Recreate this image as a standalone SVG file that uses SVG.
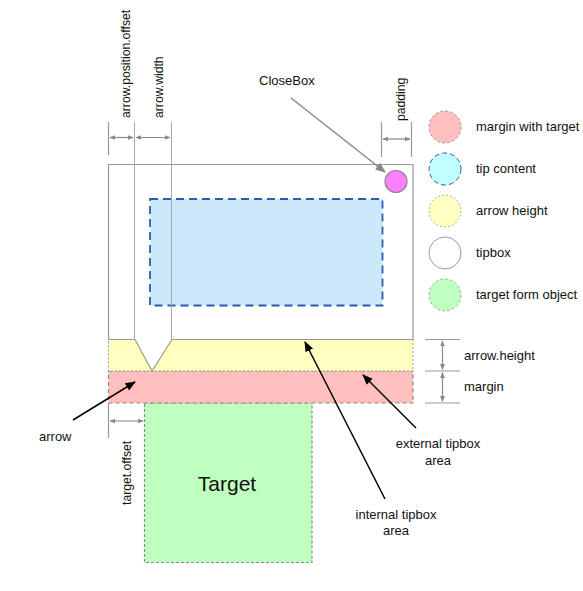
<svg xmlns="http://www.w3.org/2000/svg" width="583" height="591" viewBox="0 0 583 591">
<defs>
<style>
text{font-family:"Liberation Sans",Arial,sans-serif;font-size:13px;fill:#111}
.rot{font-size:12.2px}
.dim{stroke:#888;stroke-width:1.2;fill:none}
.ext{stroke:#999;stroke-width:1.2;fill:none}
.thin{stroke:#aaa;stroke-width:1;fill:none}
.blk{stroke:#000;stroke-width:1.5;fill:none}
</style>
<marker id="ga" viewBox="0 0 10 10" refX="9" refY="5" markerWidth="5" markerHeight="5" orient="auto-start-reverse"><path d="M0,1 L10,5 L0,9 z" fill="#888"/></marker>
<marker id="gb" viewBox="0 0 10 10" refX="9" refY="5" markerWidth="7" markerHeight="7" orient="auto"><path d="M0,1 L10,5 L0,9 z" fill="#888"/></marker>
<marker id="ba" viewBox="0 0 10 10" refX="9" refY="5" markerWidth="7" markerHeight="7" orient="auto"><path d="M0,1 L10,5 L0,9 z" fill="#000"/></marker>
</defs>
<rect width="583" height="591" fill="#fff"/>

<g id="target">
<rect x="144.5" y="403" width="167.5" height="159.5" fill="#bfffbf" stroke="#888" stroke-width="1.2" stroke-dasharray="3,2"/>
<text x="227" y="491" text-anchor="middle" style="font-size:21px">Target</text>
</g>

<g id="margin-area">
<rect x="108.5" y="371" width="304.5" height="32" fill="#ffbfbf" stroke="#888" stroke-width="1.2" stroke-dasharray="4,3"/>
</g>

<g id="arrow-area">
<rect x="108.5" y="339.5" width="304.5" height="31.5" fill="#ffffbf" stroke="#999" stroke-width="1" stroke-dasharray="2,2"/>
</g>

<g id="tipbox">
<path d="M108.5,164.5 H413 V339.5 H172 L152,371 L135,339.5 H108.5 Z" fill="#fff" stroke="#999" stroke-width="1.2"/>
</g>

<g id="tip-content">
<rect x="150" y="199" width="232.5" height="106.5" fill="#cce9fb" stroke="#2a5db0" stroke-width="1.8" stroke-dasharray="8,5"/>
</g>

<g id="closebox">
<circle cx="396" cy="181.5" r="11" fill="#ff80ff" stroke="#888" stroke-width="1.2"/>
</g>

<g id="guides">
<line class="thin" x1="134.5" y1="122" x2="134.5" y2="339.5"/>
<line class="thin" x1="171.5" y1="122" x2="171.5" y2="339.5"/>
<line class="ext" x1="108.5" y1="122" x2="108.5" y2="155"/>
<line class="ext" x1="381.5" y1="122" x2="381.5" y2="157"/>
<line class="ext" x1="411.5" y1="122" x2="411.5" y2="157"/>
<line class="ext" x1="425" y1="339.5" x2="460" y2="339.5"/>
<line class="ext" x1="425" y1="371" x2="460" y2="371"/>
<line class="ext" x1="425" y1="403" x2="460" y2="403"/>
<line class="ext" x1="108.5" y1="403" x2="108.5" y2="438"/>
</g>

<g id="connectors">
<line class="dim" x1="110" y1="137.5" x2="133" y2="137.5" marker-start="url(#ga)" marker-end="url(#ga)"/>
<line class="dim" x1="136" y1="137.5" x2="170" y2="137.5" marker-start="url(#ga)" marker-end="url(#ga)"/>
<line class="dim" x1="383" y1="139" x2="410" y2="139" marker-start="url(#ga)" marker-end="url(#ga)"/>
<line class="dim" x1="442.5" y1="341" x2="442.5" y2="369.5" marker-start="url(#ga)" marker-end="url(#ga)"/>
<line class="dim" x1="442.5" y1="372.5" x2="442.5" y2="401.5" marker-start="url(#ga)" marker-end="url(#ga)"/>
<line class="dim" x1="110" y1="421" x2="143" y2="421" marker-start="url(#ga)" marker-end="url(#ga)"/>
<line stroke="#888" stroke-width="1.5" x1="291" y1="98" x2="385" y2="172" marker-end="url(#gb)"/>
<line class="blk" x1="73" y1="420" x2="135" y2="382" marker-end="url(#ba)"/>
<line class="blk" x1="416" y1="428" x2="363" y2="375" marker-end="url(#ba)"/>
<line class="blk" x1="385" y1="499" x2="305" y2="342" marker-end="url(#ba)"/>
</g>

<g id="labels">
<text class="rot" transform="translate(129.5,118) rotate(-90)">arrow.position.offset</text>
<text class="rot" transform="translate(162.5,118) rotate(-90)">arrow.width</text>
<text class="rot" transform="translate(404.5,121) rotate(-90)">padding</text>
<text class="rot" transform="translate(130.5,505) rotate(-90)">target.offset</text>
<text x="259" y="85">CloseBox</text>
<text x="464" y="360">arrow.height</text>
<text x="464" y="391">margin</text>
<text x="39" y="441">arrow</text>
<text x="438" y="448" text-anchor="middle">external tipbox</text>
<text x="438" y="465" text-anchor="middle">area</text>
<text x="396" y="519" text-anchor="middle">internal tipbox</text>
<text x="396" y="535" text-anchor="middle">area</text>
</g>

<g id="legend">
<circle cx="445" cy="127" r="16" fill="#ffbfbf" stroke="#999" stroke-width="1" stroke-dasharray="3,2"/>
<text x="476" y="131">margin with target</text>
<circle cx="445" cy="169" r="16" fill="#bfffff" stroke="#2a5db0" stroke-width="1" stroke-dasharray="5,3"/>
<text x="476" y="173">tip content</text>
<circle cx="445" cy="211" r="16" fill="#ffffbf" stroke="#aaa" stroke-width="1" stroke-dasharray="2,2"/>
<text x="476" y="215">arrow height</text>
<circle cx="445" cy="253" r="16" fill="#fff" stroke="#999" stroke-width="1"/>
<text x="476" y="257">tipbox</text>
<circle cx="445" cy="295" r="16" fill="#bfffbf" stroke="#aaa" stroke-width="1" stroke-dasharray="3,2"/>
<text x="476" y="299">target form object</text>
</g>
</svg>
